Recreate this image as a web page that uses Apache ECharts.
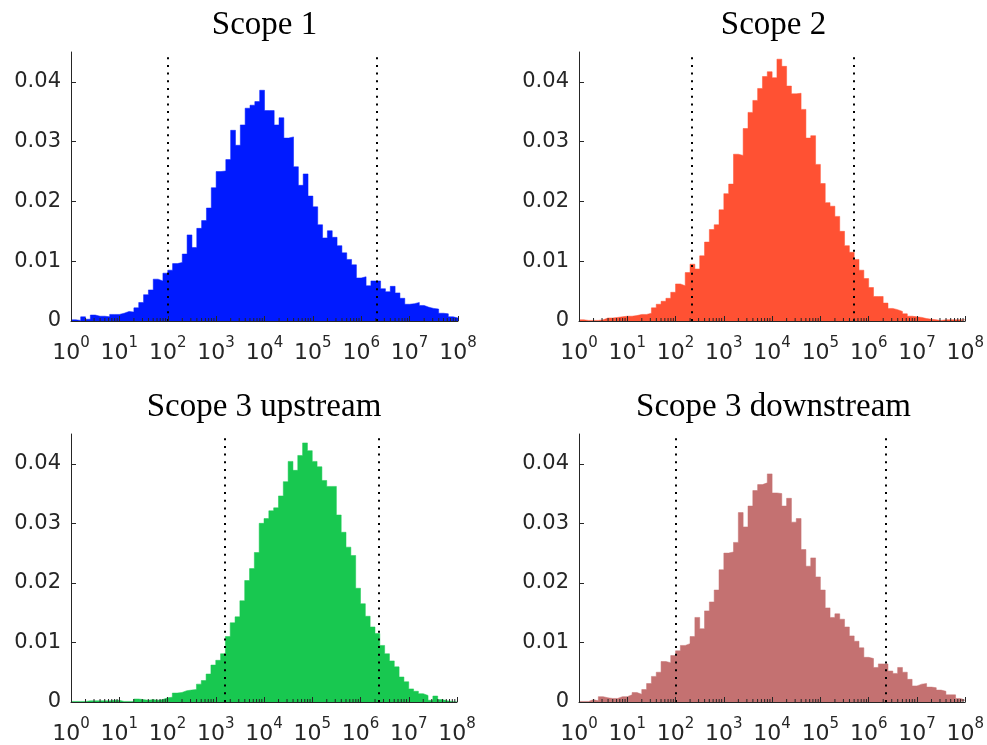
<!DOCTYPE html>
<html>
<head>
<meta charset="utf-8">
<script src="https://cdn.jsdelivr.net/npm/echarts@6/dist/echarts.min.js"></script>
<style>
html,body{margin:0;padding:0;background:#fff;}
#chart{width:987px;height:745px;}
</style>
</head>
<body>
<div id="chart"></div>
<script>
// ---- data ----
const titles = ['Scope 1', 'Scope 2', 'Scope 3 upstream', 'Scope 3 downstream'];
// histogram bins in log10 space: first edge and width
const BIN_MIN = 0;
const BIN_WIDTH = 0.1;
const xTickExponents = [0, 1, 2, 3, 4, 5, 6, 7, 8];
const yTickValues = [0, 0.01, 0.02, 0.03, 0.04];

const scope1 = [
  0.0002,0.0001,0.0007,0.0003,0.0010,0.0008,0.0008,0.0007,0.0011,0.0011,
  0.0013,0.0016,0.0015,0.0022,0.0031,0.0044,0.0052,0.0070,0.0067,0.0080,
  0.0085,0.0096,0.0098,0.0112,0.0144,0.0123,0.0155,0.0168,0.0189,0.0223,
  0.0250,0.0251,0.0270,0.0319,0.0294,0.0328,0.0356,0.0361,0.0367,0.0386,
  0.0352,0.0352,0.0328,0.0340,0.0306,0.0308,0.0258,0.0227,0.0246,0.0209,
  0.0191,0.0161,0.0139,0.0151,0.0140,0.0126,0.0114,0.0103,0.0094,0.0072,
  0.0074,0.0059,0.0067,0.0067,0.0054,0.0049,0.0058,0.0047,0.0038,0.0028,
  0.0029,0.0031,0.0026,0.0023,0.0021,0.0020,0.0013,0.0012,0.0007,0.0005
];
const scope2 = [
  0.0002,0.0001,0.0001,0.0001,0.0002,0.0005,0.0005,0.0006,0.0007,0.0008,
  0.0008,0.0009,0.0011,0.0011,0.0013,0.0022,0.0028,0.0033,0.0038,0.0048,
  0.0062,0.0059,0.0081,0.0095,0.0087,0.0109,0.0132,0.0153,0.0161,0.0186,
  0.0213,0.0229,0.0279,0.0277,0.0322,0.0349,0.0369,0.0389,0.0409,0.0417,
  0.0407,0.0438,0.0426,0.0393,0.0380,0.0381,0.0354,0.0306,0.0310,0.0262,
  0.0230,0.0198,0.0192,0.0175,0.0150,0.0126,0.0115,0.0103,0.0085,0.0071,
  0.0056,0.0041,0.0041,0.0030,0.0021,0.0019,0.0016,0.0012,0.0008,0.0007,
  0.0006,0.0004,0.0003,0.0002,0.0001,0.0002,0.0002,0.0002,0.0002,0.0002
];
const scope3up = [
  0.0001,0.0001,0.0001,0.0002,0.0002,0.0002,0.0002,0.0002,0.0003,0.0003,
  0.0001,0.0001,0.0001,0.0005,0.0004,0.0003,0.0004,0.0003,0.0004,0.0007,
  0.0008,0.0015,0.0016,0.0019,0.0020,0.0021,0.0030,0.0036,0.0047,0.0062,
  0.0070,0.0081,0.0110,0.0133,0.0143,0.0170,0.0204,0.0224,0.0251,0.0300,
  0.0308,0.0321,0.0326,0.0346,0.0370,0.0404,0.0389,0.0414,0.0435,0.0422,
  0.0404,0.0395,0.0372,0.0362,0.0362,0.0314,0.0285,0.0260,0.0246,0.0191,
  0.0165,0.0144,0.0126,0.0115,0.0095,0.0081,0.0069,0.0059,0.0042,0.0034,
  0.0022,0.0018,0.0014,0.0011,0.0003,0.0010,0.0004,0.0002,0.0001,0.0001
];
const scope3down = [
  0.0001,0.0001,0.0004,0.0002,0.0009,0.0007,0.0006,0.0006,0.0009,0.0009,
  0.0012,0.0016,0.0013,0.0021,0.0031,0.0043,0.0050,0.0068,0.0066,0.0078,
  0.0086,0.0095,0.0098,0.0110,0.0142,0.0123,0.0153,0.0168,0.0188,0.0222,
  0.0250,0.0252,0.0268,0.0318,0.0294,0.0329,0.0355,0.0365,0.0368,0.0383,
  0.0351,0.0350,0.0329,0.0342,0.0302,0.0308,0.0256,0.0228,0.0242,0.0210,
  0.0188,0.0158,0.0142,0.0148,0.0139,0.0126,0.0111,0.0102,0.0091,0.0075,
  0.0073,0.0058,0.0064,0.0064,0.0052,0.0048,0.0058,0.0050,0.0038,0.0027,
  0.0030,0.0031,0.0025,0.0024,0.0020,0.0018,0.0012,0.0012,0.0006,0.0003
];
// dotted reference lines (log10 of value)
const scope1Lines = [2.0, 6.33];
const scope2Lines = [2.34, 5.70];
const scope3upLines = [3.19, 6.37];
const scope3downLines = [2.01, 6.36];

const seriesValues = [scope1, scope2, scope3up, scope3down];
const seriesLines = [scope1Lines, scope2Lines, scope3upLines, scope3downLines];
const colors = ['#001AFF', '#FF5133', '#18C850', '#C47171'];

// ---- layout ----
const grids = [
  {left: 71, top: 52, width: 387, height: 269},
  {left: 579, top: 52, width: 389, height: 269},
  {left: 71, top: 434, width: 386, height: 268},
  {left: 579, top: 434, width: 389, height: 268}
];
const AXIS_COLOR = '#262626';

// minor tick positions for log axis (in log10 units)
const minorTickPos = [];
for (let d = xTickExponents[0]; d < xTickExponents[xTickExponents.length - 1]; d++) {
  for (let k = 2; k <= 9; k++) minorTickPos.push([d + Math.log10(k), 0]);
}

const option = {
  animation: false,
  backgroundColor: '#fff',
  title: titles.map((t, i) => ({
    text: t,
    left: grids[i].left + grids[i].width / 2,
    textAlign: 'center',
    top: grids[i].top - 43,
    padding: 0,
    textStyle: {fontFamily: 'Liberation Serif', fontSize: 33, fontWeight: 'normal', color: '#000'}
  })),
  grid: grids.map(g => Object.assign({containLabel: false}, g)),
  xAxis: grids.map((g, i) => ({
    type: 'value', gridIndex: i, min: xTickExponents[0], max: xTickExponents[xTickExponents.length - 1], interval: 1,
    z: 5,
    axisLine: {show: true, onZero: false, lineStyle: {color: AXIS_COLOR, width: 1}},
    axisTick: {show: true, inside: true, length: 5, lineStyle: {color: AXIS_COLOR}},
    splitLine: {show: false},
    axisLabel: {
      margin: 15,
      formatter: v => '{b|10}{s|' + Math.round(v) + '}',
      rich: {
        b: {fontFamily: 'DejaVu Sans', fontSize: 22, color: AXIS_COLOR, lineHeight: 28, verticalAlign: 'bottom'},
        s: {fontFamily: 'DejaVu Sans', fontSize: 15, color: AXIS_COLOR, lineHeight: 14, verticalAlign: 'top'}
      }
    }
  })),
  yAxis: grids.map((g, i) => ({
    type: 'value', gridIndex: i, min: 0, max: 0.045, interval: 0.01,
    z: 5,
    axisLine: {show: true, lineStyle: {color: AXIS_COLOR, width: 1}},
    axisTick: {show: true, inside: true, length: 5, customValues: yTickValues, lineStyle: {color: AXIS_COLOR}},
    splitLine: {show: false},
    axisLabel: {
      customValues: yTickValues,
      margin: 10,
      fontFamily: 'DejaVu Sans', fontSize: 21, color: AXIS_COLOR,
      formatter: v => (v > 0.0401 ? '' : (v === 0 ? '0' : v.toFixed(2)))
    }
  })),
  series: []
};

seriesValues.forEach((vals, i) => {
  // step outline: each bin's value holds from its left edge to the next edge; last edge closes the final bin
  const data = vals.map((v, k) => [BIN_MIN + k * BIN_WIDTH, v]);
  data.push([BIN_MIN + vals.length * BIN_WIDTH, vals[vals.length - 1]]);
  const color = colors[i];
  option.series.push({
    type: 'line', name: titles[i], xAxisIndex: i, yAxisIndex: i,
    step: 'end',
    data: data,
    symbol: 'none',
    z: 2,
    lineStyle: {width: 0.5, color: color},
    areaStyle: {color: color, opacity: 1, origin: 'start'},
    markLine: {
      silent: true, symbol: ['none', 'none'],
      label: {show: false},
      lineStyle: {color: '#000', type: [2, 5.7], width: 2},
      data: seriesLines[i].map(x => ({xAxis: x}))
    }
  });
  option.series.push({
    type: 'custom', xAxisIndex: i, yAxisIndex: i, silent: true, z: 6,
    encode: {x: 0, y: 1},
    data: minorTickPos,
    renderItem: (params, api) => {
      const p = api.coord([api.value(0), 0]);
      return {type: 'line', shape: {x1: p[0], y1: p[1], x2: p[0], y2: p[1] - 3}, style: {stroke: AXIS_COLOR, lineWidth: 1}};
    }
  });
});

const chart = echarts.init(document.getElementById('chart'), null, {renderer: 'canvas'});
chart.setOption(option);
</script>
</body>
</html>
